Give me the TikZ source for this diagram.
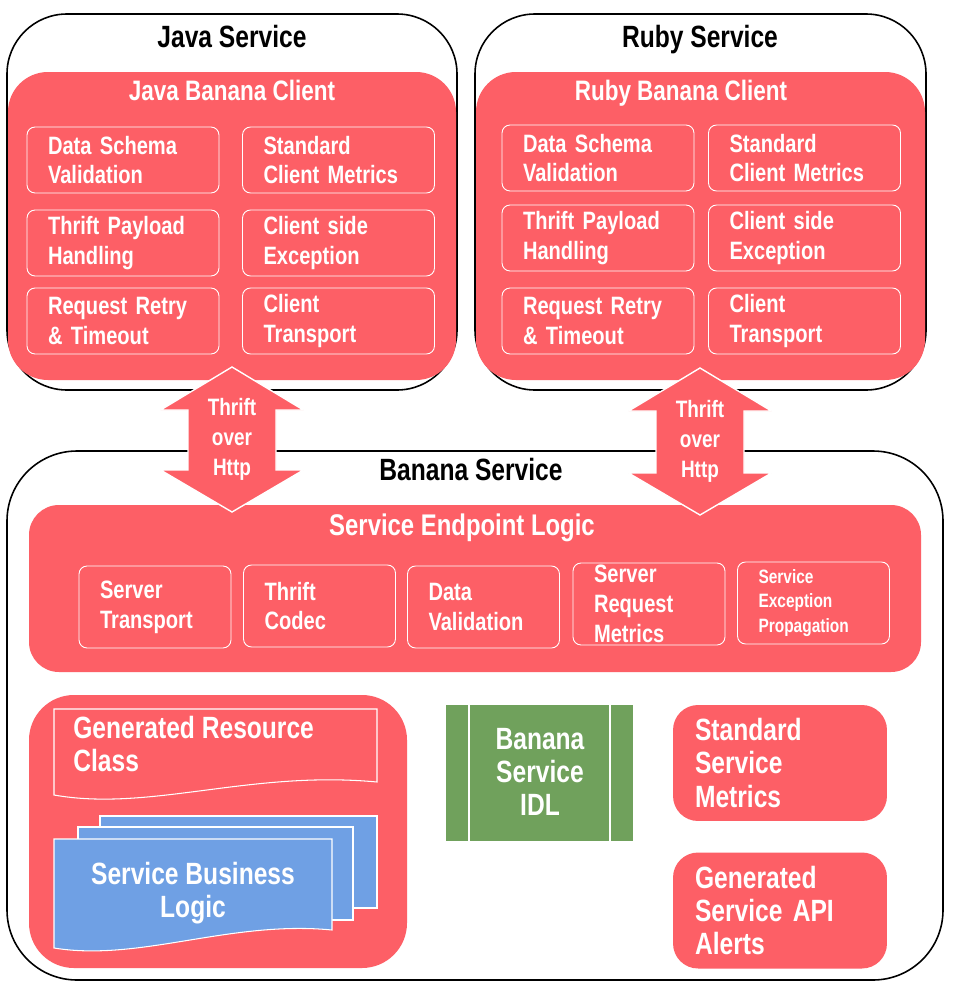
\documentclass[tikz,border=0pt]{standalone}
\usepackage{fontspec}
\usetikzlibrary{positioning}
\newfontfamily\diafont[FakeStretch=0.8]{Liberation Sans}
\newcommand\svcfont{\diafont\bfseries\fontsize{17.5}{21}\selectfont}
\newcommand\clientfont{\diafont\bfseries\fontsize{16}{19}\selectfont}
\newcommand\partfont{\diafont\bfseries\fontsize{14.3}{17}\selectfont}
\newcommand\smallpartfont{\diafont\bfseries\fontsize{11}{14}\selectfont}
\newcommand\bigfont{\diafont\bfseries\fontsize{17.5}{19}\selectfont}
\newcommand\linkfont{\diafont\bfseries\fontsize{13.5}{17}\selectfont}
\definecolor{bred}{RGB}{253,95,102}
\definecolor{bblue}{RGB}{111,160,228}
\definecolor{bgreen}{RGB}{112,161,92}
\tikzset{
  svcframe/.style={draw=black, line width=0.9pt, fill=white, rounded corners=1.2cm},
  redbox/.style={fill=bred, rounded corners=0.8cm},
  svctitle/.style={anchor=base, text=black, font=\svcfont},
  clienttitle/.style={anchor=base, text=white, font=\clientfont},
  part/.style={draw=white, line width=0.5pt, rounded corners=0.16cm, text=white,
    align=left, inner xsep=0.42cm, inner ysep=0pt, minimum height=1.32cm,
    text width=3.0cm, font=\partfont},
  epart/.style={part, minimum height=1.64cm, text width=2.2cm},
  sidebox/.style={fill=bred, rounded corners=0.5cm, text=white, align=left,
    inner xsep=0.44cm, inner ysep=0pt, minimum height=2.32cm, text width=3.4cm,
    font=\bigfont},
  bigtext/.style={text=white, font=\bigfont},
  docshape/.style={draw=white, line width=0.6pt, fill=bred},
  bizdoc/.style={draw=white, line width=0.6pt, fill=bblue},
  linkarrow/.style={draw=white, line width=0.8pt, fill=bred},
  linktext/.style={text=white, align=center, font=\linkfont}
}
\begin{document}
\begin{tikzpicture}[x=0.02cm,y=-0.02cm]
\useasboundingbox (0,0) rectangle (953,987);
% outer services
\draw[svcframe] (7,14) rectangle (457,390);
\draw[svcframe] (475,14) rectangle (926,390);
\draw[svcframe, rounded corners=1.4cm] (7,451) rectangle (943,980);
\node[svctitle] (javasvc) at (232,47) {Java Service};
\node[svctitle] (rubysvc) at (700,47) {Ruby Service};
\node[svctitle] (banana) at (471,480) {Banana Service};

% clients
\fill[redbox] (8,72) rectangle (456,380);
\fill[redbox] (476,72) rectangle (925,380);
\node[clienttitle] (javaclient) at (232,100) {Java Banana Client};
\node[clienttitle] (rubyclient) at (681,100) {Ruby Banana Client};

\node[part] (jschema) at (123,160) {Data Schema\\Validation};
\node[part] (jmetrics) at (338.5,160) {Standard\\Client Metrics};
\node[part] (jthrift) at (123,243) {Thrift Payload\\Handling};
\node[part] (jexc) at (338.5,243) {Client side\\Exception};
\node[part] (jretry) at (123,321) {Request Retry\\\& Timeout};
\node[part] (jtrans) at (338.5,321) {Client\\Transport};

\node[part] (rschema) at (598,158) {Data Schema\\Validation};
\node[part] (rmetrics) at (804.5,158) {Standard\\Client Metrics};
\node[part] (rthrift) at (598,238) {Thrift Payload\\Handling};
\node[part] (rexc) at (804.5,238) {Client side\\Exception};
\node[part] (rretry) at (598,321) {Request Retry\\\& Timeout};
\node[part] (rtrans) at (804.5,321) {Client\\Transport};

% endpoint logic
\fill[redbox, rounded corners=0.6cm] (29,505) rectangle (921,672);
\node[clienttitle, font=\diafont\bfseries\fontsize{17}{20}\selectfont] (endpoint) at (462,535) {Service Endpoint Logic};
\node[epart] (strans) at (155,607) {Server\\Transport};
\node[epart] (codec) at (319.5,606) {Thrift\\Codec};
\node[epart] (dval) at (483.5,607) {Data\\Validation};
\node[epart] (reqmet) at (649,604) {Server\\Request\\Metrics};
\node[epart, font=\smallpartfont] (excprop) at (813.5,603) {Service\\Exception\\Propagation};

% thrift links
\foreach \cx/\ty/\by/\nm in {232/367/512/java, 700/368/515/ruby}{
  \draw[linkarrow] (\cx,\ty) -- (\cx+71.5,\ty+43) -- (\cx+44,\ty+43) -- (\cx+44,\by-42)
    -- (\cx+71.5,\by-42) -- (\cx,\by) -- (\cx-71.5,\by-42) -- (\cx-44,\by-42)
    -- (\cx-44,\ty+43) -- (\cx-71.5,\ty+43) -- cycle;
  \node[linktext] (\nm link) at (\cx,\ty/2+\by/2) {Thrift\\over\\Http};
}

% resource class and business logic
\fill[redbox, rounded corners=0.9cm] (29,695) rectangle (407,968);
\draw[docshape] (54,709) -- (377,709) -- (377,782) .. controls (250,770) and (150,812) .. (54,795) -- cycle;
\node[bigtext, anchor=west, align=left, inner xsep=0pt] (genres) at (73,744) {Generated Resource\\Class};
\draw[bizdoc] (100,816) rectangle (377,908);
\draw[bizdoc] (78,827) rectangle (353,920);
\draw[bizdoc] (54,839) -- (332,839) -- (332,930) .. controls (230,920) and (140,962) .. (54,948) -- cycle;
\node[bigtext, align=center] (bizlogic) at (193,893) {Service Business\\Logic};

% idl
\fill[bgreen] (446,705) rectangle (633,841);
\draw[white, line width=0.6pt] (469,705) -- (469,841) (610,705) -- (610,841);
\node[bigtext, align=center] (idl) at (540,772) {Banana\\Service\\IDL};

\node[sidebox] (svcmetrics) at (780,763) {Standard\\Service\\Metrics};
\node[sidebox] (alerts) at (780,910.5) {Generated\\Service API\\Alerts};
\end{tikzpicture}
\end{document}
